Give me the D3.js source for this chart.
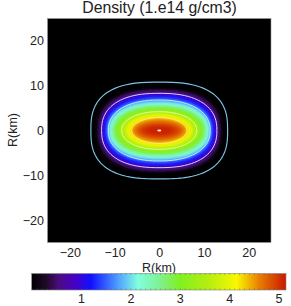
<!DOCTYPE html>
<html>
<head>
<meta charset="utf-8">
<script src="https://cdn.jsdelivr.net/npm/d3@7"></script>
<style>
html,body{margin:0;padding:0;background:#fff;overflow:hidden}
text{font-family:"Liberation Sans",sans-serif;fill:#222}
</style>
</head>
<body>
<div id="container"></div>
<script>
// density bands, outermost first
const bandLevel = [0.05,0.1,0.2,0.3,0.45,0.6,0.8,1.0,1.2,1.45,1.75,1.95,2.15,2.35,2.6,2.8,3.0,3.3,3.6,3.9,4.15,4.4,4.6,4.8,4.95,5.05,5.1]
const bandA     = [14.5,14.3,14.0,13.7,13.4,13.2,13.0,12.7,12.3,11.9,11.5,11.3,11.1,10.8,10.5,10.1,9.8,9.1,8.3,7.5,6.9,6.4,5.9,5.2,4.4,3.5,2.5]
const bandB     = [9.7,9.5,9.3,9.1,8.9,8.7,8.4,8.1,7.7,7.3,6.8,6.5,6.2,6.0,5.6,5.4,5.1,4.6,4.1,3.7,3.4,2.9,2.5,2.0,1.5,1.1,0.8]
const bandN     = [2.6,2.6,2.5,2.5,2.45,2.45,2.4,2.4,2.3,2.3,2.3,2.25,2.25,2.2,2.2,2.15,2.1,2.1,2.05,2.05,2.0,2.0,2.0,2.0,2.0,2.0,2.0]

// contour lines
const contourA = [15.3,12.9,11.4,8.4,6.2]
const contourB = [10.8,8.3,6.8,4.2,2.9]
const contourN = [2.7,2.4,2.25,2.1,2.0]
const contourColor = ["#7cc4e6","#f0e8f8","#c8f4ff","#e0ffb0","#ffee90"]

// colour table
const stopValue = [0,0.3,0.55,0.85,1.2,1.75,2.15,2.6,3.0,3.6,4.15,4.6,5.15]
const stopColor = ["#000000","#200a28","#4a0c80","#4a00c0","#1010ff","#50a0ff","#80ffe0","#80f090","#80f020","#b8ee10","#f8f800","#e88000","#c81800"]

const axisTicks = [-20,-10,0,10,20]
const barTicks = [1,2,3,4,5]

const width = 291
const height = 306

const xScale = d3.scaleLinear().domain([-25,25]).range([47.5,271])
const yScale = d3.scaleLinear().domain([-25,25]).range([242.5,18.5])
const barScale = d3.scaleLinear().domain([0,5.15]).range([31.7,286])
const colorScale = d3.scaleLinear().domain(stopValue).range(stopColor)

const svg = d3.select("#container").append("svg")
  .attr("width",width)
  .attr("height",height)
  .style("display","block")

const defs = svg.append("defs")
defs.append("filter").attr("id","soft")
  .attr("x","-20%").attr("y","-20%").attr("width","140%").attr("height","140%")
  .append("feGaussianBlur").attr("stdDeviation",0.8)
defs.append("filter").attr("id","softLine")
  .attr("x","-20%").attr("y","-20%").attr("width","140%").attr("height","140%")
  .append("feGaussianBlur").attr("stdDeviation",0.3)
const grad = defs.append("linearGradient").attr("id","barGrad")
grad.selectAll("stop").data(stopValue).enter().append("stop")
  .attr("offset",d=>d/5.15)
  .attr("stop-color",d=>colorScale(d))

const angles = d3.range(0,360,4).map(d=>d*Math.PI/180)
const ring = (a,b,n)=>{
  const pts = angles.map(t=>{
    const c = Math.cos(t), s = Math.sin(t)
    return [xScale(a*Math.sign(c)*Math.pow(Math.abs(c),2/n)),
            yScale(b*Math.sign(s)*Math.pow(Math.abs(s),2/n))]
  })
  return d3.line().curve(d3.curveLinearClosed)(pts)
}

/*main panel*/
svg.append("rect")
  .attr("x",xScale(-25)).attr("y",yScale(25))
  .attr("width",xScale(25)-xScale(-25)).attr("height",yScale(-25)-yScale(25))
  .attr("fill","#000")
  .attr("stroke","#999").attr("stroke-width",0.6)

svg.append("g").attr("filter","url(#soft)")
  .selectAll("path").data(bandLevel).enter().append("path")
  .attr("d",(d,i)=>ring(bandA[i],bandB[i],bandN[i]))
  .attr("fill",d=>colorScale(d))

svg.append("g").attr("filter","url(#softLine)")
  .selectAll("path").data(contourA).enter().append("path")
  .attr("d",(d,i)=>ring(d,contourB[i],contourN[i]))
  .attr("fill","none")
  .attr("stroke",(d,i)=>contourColor[i])
  .attr("stroke-width",(d,i)=>i==0?1.15:0.9)

// small spot at the very centre
svg.append("ellipse")
  .attr("cx",xScale(0)).attr("cy",yScale(0))
  .attr("rx",xScale(0.45)-xScale(0)).attr("ry",yScale(0)-yScale(0.22))
  .attr("fill","#fff0e0")

/*axes*/
const xAxis = d3.axisBottom(xScale).tickValues(axisTicks).tickSize(0).tickPadding(6).tickFormat(d3.format("d"))
const yAxis = d3.axisLeft(yScale).tickValues(axisTicks).tickSize(0).tickPadding(3.5).tickFormat(d3.format("d"))

const gx = svg.append("g").attr("transform",`translate(0,${yScale(-25)})`).call(xAxis)
const gy = svg.append("g").attr("transform",`translate(${xScale(-25)},0)`).call(yAxis)
gx.select(".domain").remove()
gy.select(".domain").remove()
gx.selectAll("text").style("font-size","12.5px").attr("font-family",null)
gy.selectAll("text").style("font-size","12.5px").attr("font-family",null)

svg.append("text").attr("x",159.5).attr("y",13)
  .attr("text-anchor","middle").style("font-size","15.8px")
  .text("Density (1.e14 g/cm3)")

svg.append("text").attr("x",159).attr("y",272)
  .attr("text-anchor","middle").style("font-size","12.5px")
  .text("R(km)")

svg.append("text").attr("transform","translate(17,130) rotate(-90)")
  .attr("text-anchor","middle").style("font-size","12.5px")
  .text("R(km)")

/*colour bar*/
const barTop = 273.5
const barBottom = 290

svg.append("rect")
  .attr("x",barScale(0)).attr("y",barTop)
  .attr("width",barScale(5.15)-barScale(0)).attr("height",barBottom-barTop)
  .attr("fill","url(#barGrad)")
  .attr("stroke","#888").attr("stroke-width",0.6)

const barTickValues = d3.range(0,51).map(d=>d/10)
const barMinorTop = d3.axisBottom(barScale).tickValues(barTickValues).tickSize(1.5).tickFormat("")
const barMinorBottom = d3.axisTop(barScale).tickValues(barTickValues).tickSize(1.5).tickFormat("")
const gTop = svg.append("g").attr("transform",`translate(0,${barTop})`).call(barMinorTop)
const gBottom = svg.append("g").attr("transform",`translate(0,${barBottom})`).call(barMinorBottom)
gTop.select(".domain").remove()
gBottom.select(".domain").remove()
svg.selectAll("g line").attr("stroke","#555").attr("stroke-width",0.4)

const barAxis = d3.axisBottom(barScale).tickValues(barTicks).tickSize(0).tickPadding(4).tickFormat(d3.format("d"))
const gBar = svg.append("g").attr("transform",`translate(0,${barBottom})`).call(barAxis)
gBar.select(".domain").remove()
gBar.selectAll("text").style("font-size","12.5px").attr("font-family",null)
</script>
</body>
</html>
